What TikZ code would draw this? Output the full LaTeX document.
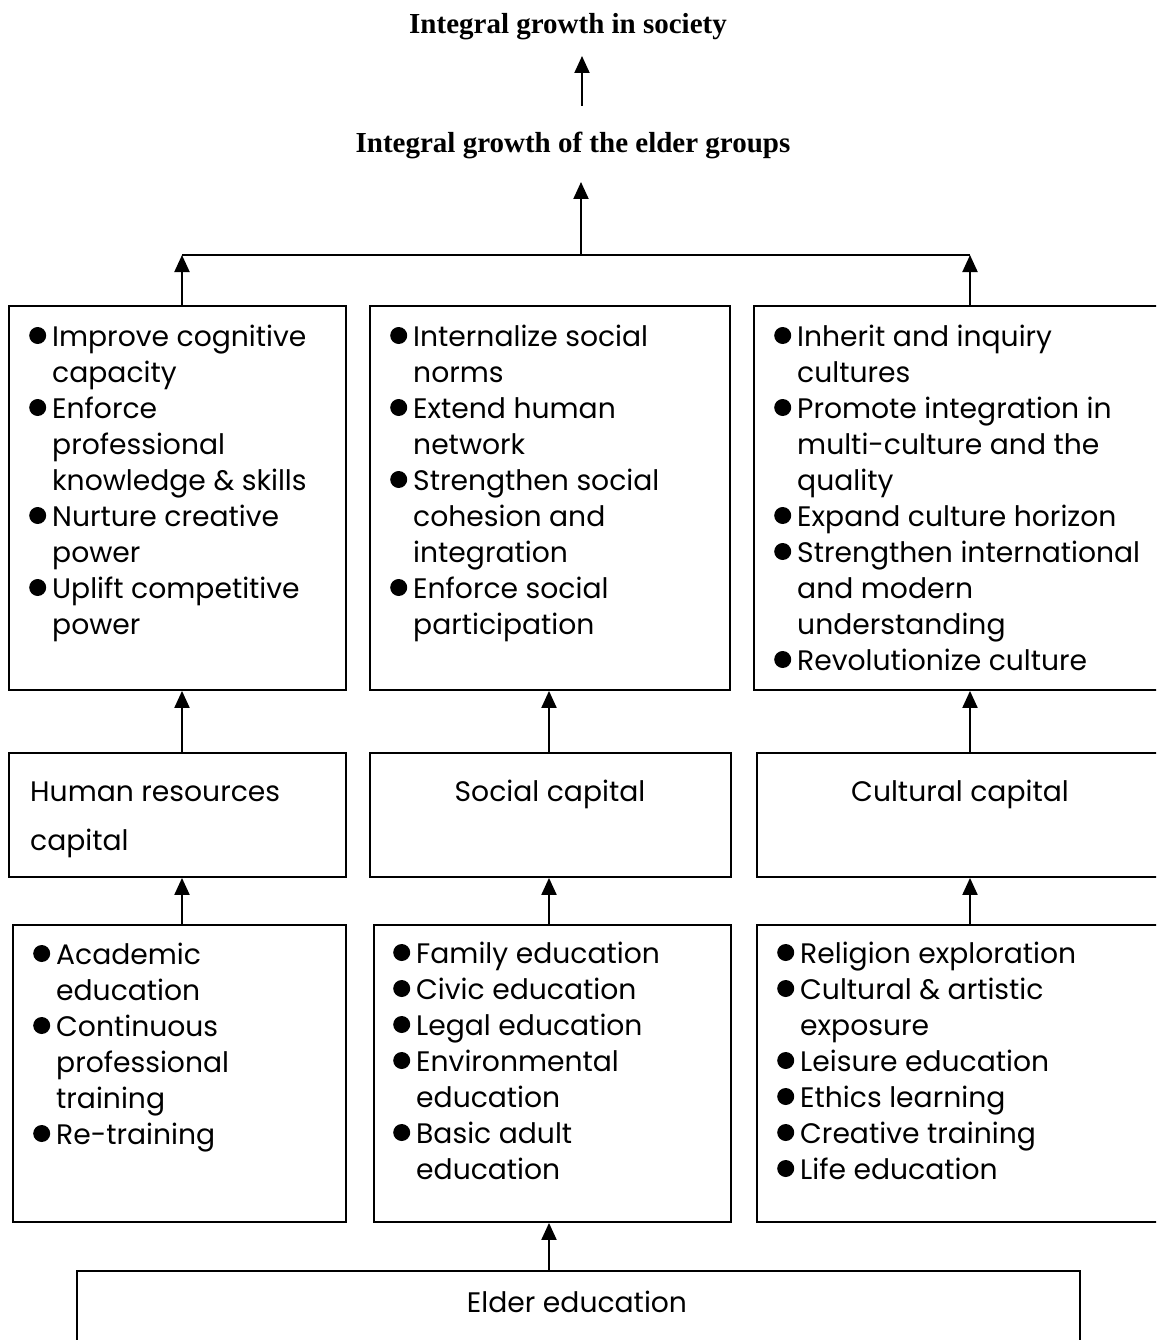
\documentclass[tikz,border=0pt]{standalone}
\usepackage{fontspec}
\setmainfont{Poppins}
\newfontfamily\titlefont{Liberation Serif}
\usetikzlibrary{arrows.meta}
\newcommand{\bul}{\tikz[x=1pt,y=1pt,baseline=0pt]{\fill (8.5,10.5) circle (8.5);}}
\newcommand{\gap}{\hspace{6pt}}
\tikzset{
  box/.style={draw, line width=1.9pt, anchor=north west, inner sep=0pt},
  arr/.style={line width=2pt, -{Triangle[length=17pt,width=15pt]}},
  plain/.style={line width=2pt},
  body/.style={anchor=base west, align=left, inner sep=0pt, font=\fontsize{28.2}{36}\selectfont},
  ttl/.style={anchor=base, inner sep=0pt, font=\titlefont\bfseries\fontsize{29}{34}\selectfont},
}
\begin{document}
\begin{tikzpicture}[x=1pt,y=-1pt]
\useasboundingbox (0,0) rectangle (1156,1340);
\clip (0,0) rectangle (1156,1340);
\fill[white] (0,0) rectangle (1156,1340);

% titles
\node[ttl] (t1) at (568,34) {Integral growth in society};
\node[ttl] (t2) at (573,153) {Integral growth of the elder groups};
\coordinate (t1s) at (582,56);
\coordinate (t2n) at (582,106);
\coordinate (t2s) at (581,182);
\coordinate (j) at (581,255);
\coordinate (a1) at (182,0);
\coordinate (a2) at (549,0);
\coordinate (a3) at (970,0);

% top row
\node[box, minimum width=337pt, minimum height=384pt] (b1) at (8,305) {};
\node[box, minimum width=360pt, minimum height=384pt] (b2) at (369,305) {};
\node[box, minimum width=432pt, minimum height=384pt] (b3) at (753,305) {};

% middle row
\node[box, minimum width=337pt, minimum height=124pt] (m1) at (8,752) {};
\node[box, minimum width=361pt, minimum height=124pt] (m2) at (369,752) {};
\node[box, minimum width=430pt, minimum height=124pt] (m3) at (756,752) {};

% bottom row
\node[box, minimum width=333pt, minimum height=297pt] (c1) at (12,924) {};
\node[box, minimum width=357pt, minimum height=297pt] (c2) at (373,924) {};
\node[box, minimum width=430pt, minimum height=297pt] (c3) at (756,924) {};

% base box
\node[box, minimum width=1003pt, minimum height=130pt] (e) at (76,1270) {};

% texts
\node[body] (x1) at (29,346) {\begin{tabular}[t]{@{}l@{\gap}l@{}}
\bul & Improve cognitive\\
 & capacity\\
\bul & Enforce\\
 & professional\\
 & knowledge \& skills\\
\bul & Nurture creative\\
 & power\\
\bul & Uplift competitive\\
 & power
\end{tabular}};

\node[body] (x2) at (390,346) {\begin{tabular}[t]{@{}l@{\gap}l@{}}
\bul & Internalize social\\
 & norms\\
\bul & Extend human\\
 & network\\
\bul & Strengthen social\\
 & cohesion and\\
 & integration\\
\bul & Enforce social\\
 & participation
\end{tabular}};

\node[body] (x3) at (774,346) {\begin{tabular}[t]{@{}l@{\gap}l@{}}
\bul & Inherit and inquiry\\
 & cultures\\
\bul & Promote integration in\\
 & multi-culture and the\\
 & quality\\
\bul & Expand culture horizon\\
\bul & Strengthen international\\
 & and modern\\
 & understanding\\
\bul & Revolutionize culture
\end{tabular}};

\node[body, font=\fontsize{28.2}{49}\selectfont] (y1) at (30,850) {Human resources\\capital};
\node[body, anchor=base] (y2) at (550,801) {Social capital};
\node[body, anchor=base] (y3) at (960,801) {Cultural capital};

\node[body] (z1) at (33,964) {\begin{tabular}[t]{@{}l@{\gap}l@{}}
\bul & Academic\\
 & education\\
\bul & Continuous\\
 & professional\\
 & training\\
\bul & Re-training
\end{tabular}};

\node[body] (z2) at (393,963) {\begin{tabular}[t]{@{}l@{\gap}l@{}}
\bul & Family education\\
\bul & Civic education\\
\bul & Legal education\\
\bul & Environmental\\
 & education\\
\bul & Basic adult\\
 & education
\end{tabular}};

\node[body] (z3) at (777,963) {\begin{tabular}[t]{@{}l@{\gap}l@{}}
\bul & Religion exploration\\
\bul & Cultural \& artistic\\
 & exposure\\
\bul & Leisure education\\
\bul & Ethics learning\\
\bul & Creative training\\
\bul & Life education
\end{tabular}};

\node[body, anchor=base] (w) at (577,1312) {Elder education};

% connectors
\draw[arr] (t2n) -- (t1s);
\draw[arr] (j) -- (t2s);
\draw[plain] (a1 |- j) -- (a3 |- j);
\draw[arr] (b1.north -| a1) -- (a1 |- j);
\draw[arr] (b3.north -| a3) -- (a3 |- j);
\draw[arr] (m1.north -| a1) -- (b1.south -| a1);
\draw[arr] (m2.north -| a2) -- (b2.south -| a2);
\draw[arr] (m3.north -| a3) -- (b3.south -| a3);
\draw[arr] (c1.north -| a1) -- (m1.south -| a1);
\draw[arr] (c2.north -| a2) -- (m2.south -| a2);
\draw[arr] (c3.north -| a3) -- (m3.south -| a3);
\draw[arr] (e.north -| a2) -- (c2.south -| a2);
\end{tikzpicture}
\end{document}
